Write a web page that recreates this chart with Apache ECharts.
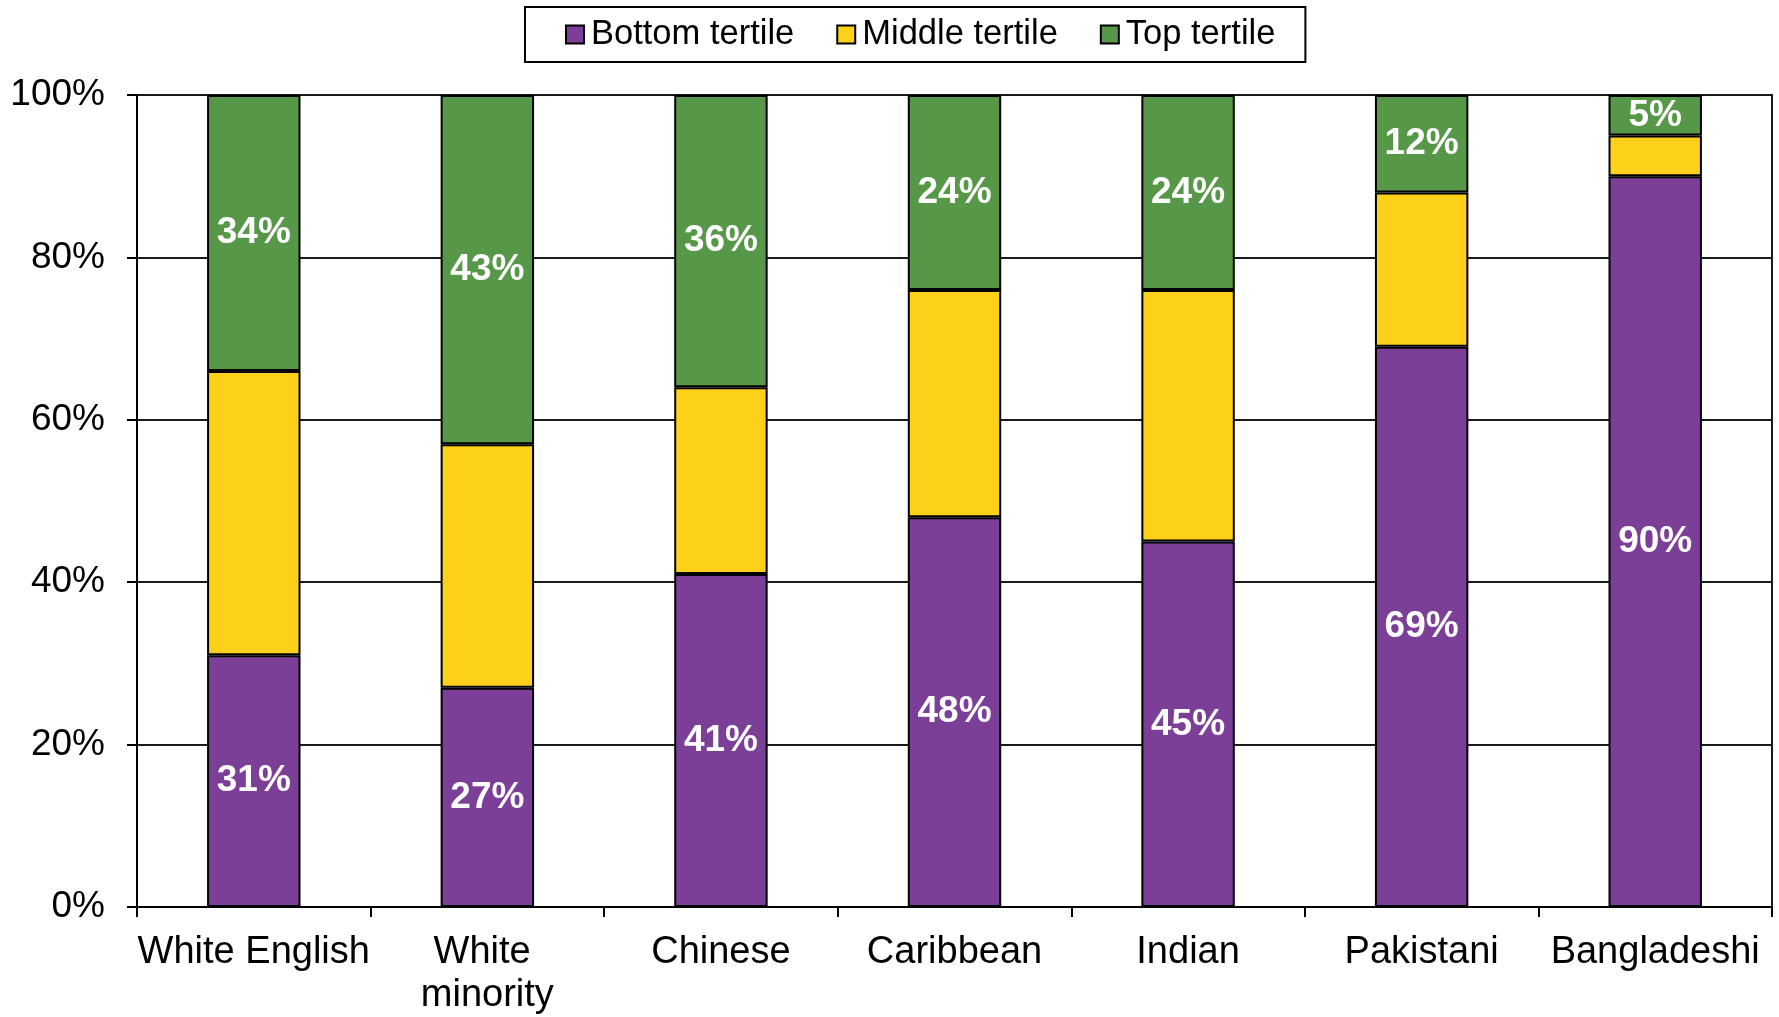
<!DOCTYPE html>
<html>
<head>
<meta charset="utf-8">
<title>Tertile shares by ethnic group</title>
<script src="https://cdn.jsdelivr.net/npm/echarts@6/dist/echarts.min.js"></script>
<style>
  html, body { margin: 0; padding: 0; background: #fff; }
  #chart { width: 1779px; height: 1017px; }
</style>
</head>
<body>
<div id="chart"></div>
<script>
// Groups along the x axis
const categories = ['White English', 'White minority', 'Chinese', 'Caribbean', 'Indian', 'Pakistani', 'Bangladeshi'];

// Share of each group in each tertile (%)
const bottomTertile = [31, 27, 41, 48, 45, 69, 90];
const middleTertile = [35, 30, 23, 28, 31, 19, 5];
const topTertile    = [34, 43, 36, 24, 24, 12, 5];

// Y axis ticks (%)
const yTicks = [0, 20, 40, 60, 80, 100];

const FONT = '"Liberation Sans", Arial, sans-serif';

const chart = echarts.init(document.getElementById('chart'), null, { renderer: 'canvas' });

function seriesDef(name, data, color, showLabel) {
  return {
    name: name,
    type: 'bar',
    stack: 'total',
    data: data,
    barWidth: '40%',
    itemStyle: {
      color: color,
      borderColor: '#000',
      borderWidth: 2
    },
    label: {
      show: showLabel,
      position: 'inside',
      formatter: '{c}%',
      color: '#fff',
      fontFamily: FONT,
      fontWeight: 'bold',
      fontSize: 37
    },
    emphasis: { disabled: true }
  };
}

chart.setOption({
  animation: false,
  backgroundColor: '#fff',
  textStyle: { fontFamily: FONT },
  legend: {
    left: 525,
    top: 7,
    padding: [10, 30, 10, 40],
    borderColor: '#000',
    borderWidth: 2,
    itemWidth: 18,
    itemHeight: 18,
    itemGap: 42,
    icon: 'rect',
    textStyle: { fontFamily: FONT, fontSize: 34.5, color: '#000', padding: [0, 0, 0, 2] },
    data: ['Bottom tertile', 'Middle tertile', 'Top tertile']
  },
  grid: {
    left: 137,
    right: 7,
    top: 95,
    bottom: 108,
    show: true,
    borderColor: '#1a1a1a',
    borderWidth: 2,
    containLabel: false
  },
  xAxis: {
    type: 'category',
    data: categories,
    axisLine: { show: true, lineStyle: { color: '#000', width: 2 } },
    axisTick: { show: true, length: 10, lineStyle: { color: '#000', width: 2 } },
    axisLabel: {
      color: '#000',
      fontFamily: FONT,
      fontSize: 38,
      margin: 24,
      lineHeight: 43,
      interval: 0,
      width: 236,
      overflow: 'break'
    }
  },
  yAxis: {
    type: 'value',
    min: yTicks[0],
    max: yTicks[yTicks.length - 1],
    interval: yTicks[1] - yTicks[0],
    axisLine: { show: true, lineStyle: { color: '#000', width: 2 } },
    axisTick: { show: true, length: 10, lineStyle: { color: '#000', width: 2 } },
    axisLabel: {
      color: '#000',
      fontFamily: FONT,
      fontSize: 37,
      margin: 32,
      formatter: '{value}%'
    },
    splitLine: { show: true, lineStyle: { color: '#1a1a1a', width: 2 } }
  },
  series: [
    seriesDef('Bottom tertile', bottomTertile, '#7b3f98', true),
    seriesDef('Middle tertile', middleTertile, '#fdd01a', false),
    seriesDef('Top tertile', topTertile, '#569847', true)
  ]
});
</script>
</body>
</html>
